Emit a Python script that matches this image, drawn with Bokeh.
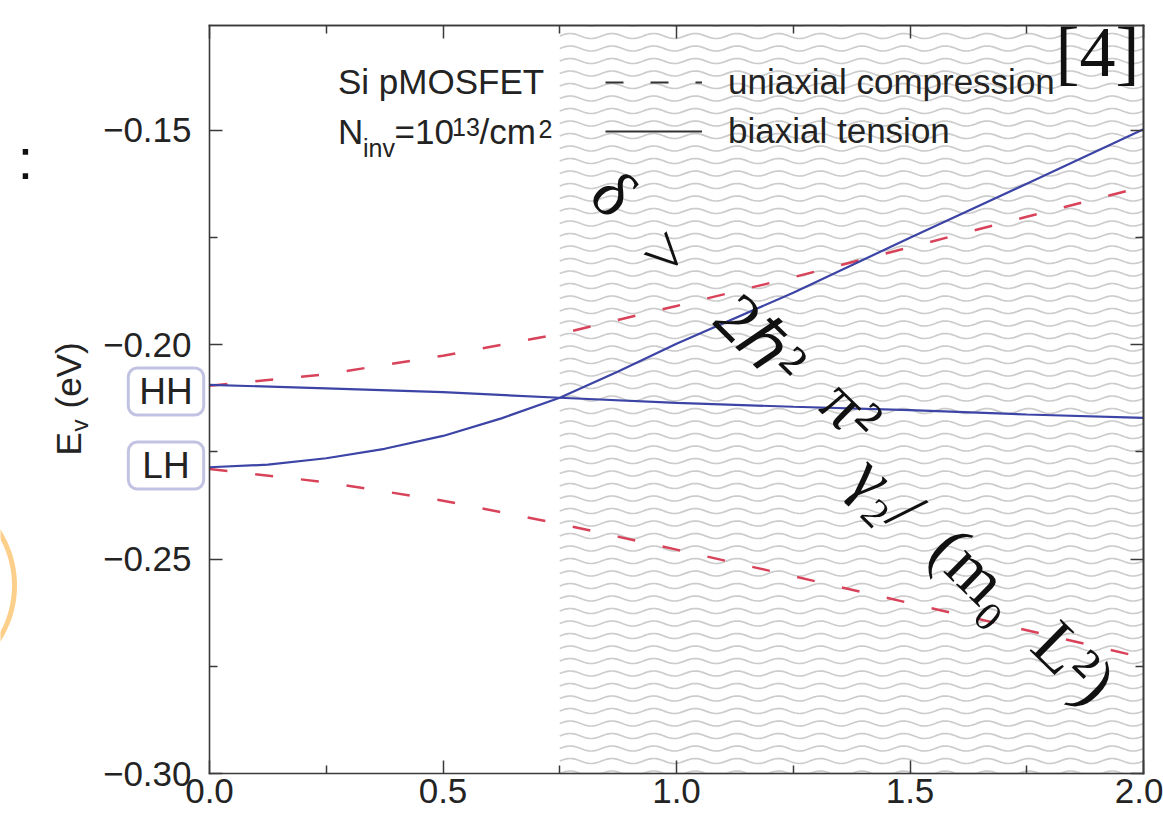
import numpy as np
from bokeh.plotting import figure
from bokeh.models import (Range1d, LinearAxis, FixedTicker, Label, Legend,
                          LegendItem, PolyAnnotation)
from bokeh.embed import file_html
from bokeh.resources import INLINE

# ---------------- data ----------------
x_main = [0.0, 0.25, 0.5, 0.75, 1.0, 1.25, 1.5, 1.75, 2.0]
uniaxial_upper = [-0.2096, -0.2069, -0.2026, -0.1975, -0.1910, -0.1843, -0.1773, -0.1702, -0.1632]
uniaxial_lower = [-0.2290, -0.2321, -0.2364, -0.2418, -0.2478, -0.2540, -0.2603, -0.2666, -0.2730]
biaxial_hh = [-0.2094, -0.2102, -0.2111, -0.2124, -0.2136, -0.2145, -0.2153, -0.2163, -0.2171]
x_lh = [0.0, 0.125, 0.25, 0.375, 0.5, 0.625, 0.75, 0.875, 1.0, 1.25, 1.5, 1.75, 2.0]
biaxial_lh = [-0.2286, -0.2280, -0.2265, -0.2243, -0.2213, -0.2172, -0.2124, -0.2063,
              -0.1998, -0.1879, -0.1751, -0.1625, -0.1498]

x_ticks = [0.0, 0.5, 1.0, 1.5, 2.0]
x_minor = [0.25, 0.75, 1.25, 1.75]
x_tick_labels = ["0.0", "0.5", "1.0", "1.5", "2.0"]
y_ticks = [-0.30, -0.25, -0.20, -0.15]
y_minor = [-0.275, -0.225, -0.175]
y_tick_labels = ["\u22120.30", "\u22120.25", "\u22120.20", "\u22120.15"]
hatch_start = 0.75
legend_labels = ["uniaxial compression", "biaxial tension"]
band_labels = ["HH", "LH"]

# ---------------- layout (page pixels) ----------------
W, H = 1163, 817
FL, FR, FT, FB = 209, 1143, 25, 773       # plot box edges on the page
X0, X1 = 0.0, 2.0
PXY = 4289.3                               # px per eV
Y0 = -0.30
Y1 = Y0 + (FB - FT) / PXY
PXX = (FR - FL) / (X1 - X0)

def dx(px):
    return X0 + (px - FL) / PXX

def dy(py):
    return Y0 + (FB - py) / PXY

SANS = "Liberation Sans"
SERIF = "Liberation Serif"
TXT = "#232323"
AX = "#3a3a3a"
BLUE = "#3c44a6"
RED = "#d8435a"

# the frame spans the whole canvas; the plot box is drawn by fixed-location axes
p = figure(width=W, height=H, x_range=Range1d(dx(0), dx(W)), y_range=Range1d(dy(H), dy(0)),
           output_backend="svg", toolbar_location=None,
           x_axis_type=None, y_axis_type=None,
           min_border_left=0, min_border_right=0, min_border_top=0, min_border_bottom=0)
p.background_fill_color = "white"
p.border_fill_color = "white"
p.outline_line_color = None


def base_axis(ticker, loc, bounds):
    ax = LinearAxis(ticker=ticker, fixed_location=loc, bounds=bounds)
    ax.axis_line_color = AX
    ax.axis_line_width = 1.6
    ax.axis_line_cap = "square"
    ax.major_tick_line_color = AX
    ax.major_tick_line_width = 1.5
    ax.minor_tick_line_color = AX
    ax.minor_tick_line_width = 1.5
    ax.major_tick_in = 13
    ax.major_tick_out = 0
    ax.minor_tick_in = 8
    ax.minor_tick_out = 0
    ax.major_label_text_font = SANS
    ax.major_label_text_font_size = "35px"
    ax.major_label_text_color = TXT
    return ax

# left axis with labels
yl = base_axis(FixedTicker(ticks=y_ticks, minor_ticks=y_minor), X0, (Y0, Y1))
yl.major_label_overrides = dict(zip(y_ticks, y_tick_labels))
yl.major_label_standoff = 18
p.add_layout(yl, "left")
# bottom axis with labels
xb = base_axis(FixedTicker(ticks=x_ticks, minor_ticks=x_minor), Y0, (X0, X1))
xb.major_label_overrides = dict(zip(x_ticks, x_tick_labels))
xb.major_label_standoff = 5
p.add_layout(xb, "below")
# right and top: ticks only (long ones for major positions, short for minor)
for side, ticks, minor, loc, bnds in [("right", y_ticks, y_minor, X1, (Y0, Y1)),
                                      ("above", x_ticks, x_minor, Y1, (X0, X1))]:
    a1 = base_axis(FixedTicker(ticks=[], minor_ticks=ticks), loc, bnds)
    a1.minor_tick_in = 13
    p.add_layout(a1, side)
    a2 = base_axis(FixedTicker(ticks=[], minor_ticks=minor), loc, bnds)
    p.add_layout(a2, side)

# ---------------- wavy hatch on x >= 0.75 ----------------
P = 41.7 / PXX
A = 2.5 / PXY
DY = 12.5 / PXY
hx = np.linspace(hatch_start, X1, 420)
hxs, hys = [], []
yb = Y0 - DY
while yb < Y1 + DY:
    hxs.append(list(hx))
    hys.append(list(np.clip(yb + A * np.sin(2 * np.pi * (hx - hatch_start) / P), Y0, Y1)))
    yb += DY
p.multi_line(xs=hxs, ys=hys, line_color="#cccccc", line_width=1.7)

# ---------------- curves ----------------
p.line(x_main, uniaxial_upper, line_color=RED, line_width=2.5, line_dash="18 28")
p.line(x_main, uniaxial_lower, line_color=RED, line_width=2.5, line_dash="18 28")
p.line(x_main, biaxial_hh, line_color=BLUE, line_width=2.2)
p.line(x_lh, biaxial_lh, line_color=BLUE, line_width=2.2)

# ---------------- legend (sample renderers hold off-view points only) ----------------
r1 = p.line(x=[-9, -8], y=[-9, -9], line_color="#333333", line_width=2, line_dash="18 27")
r2 = p.line(x=[-9, -8], y=[-9, -9], line_color="#333333", line_width=2)
leg = Legend(items=[LegendItem(label=legend_labels[0], renderers=[r1]),
                    LegendItem(label=legend_labels[1], renderers=[r2])],
             location=(605, H - 151),
             glyph_width=97, glyph_height=40, label_height=40, label_standoff=26,
             spacing=9, padding=0, margin=0,
             border_line_alpha=0, background_fill_alpha=0,
             label_text_font=SANS, label_text_font_size="35px", label_text_color=TXT)
p.add_layout(leg)

# ---------------- text annotations ----------------
def lab(px, py, text, size=35, font=SANS, align="left", angle=0.0, color=TXT, k=0.3465, **kw):
    # (px, py) is the text's baseline point on the page; shift to the em-box middle
    m = k * size
    cx = px - m * np.sin(angle)
    cy = py - m * np.cos(angle)
    p.add_layout(Label(x=dx(cx), y=dy(cy), text=text, text_font=font,
                       text_font_size=f"{size}px", text_align=align, text_baseline="middle",
                       angle=angle, text_color=color, **kw))

lab(337.5, 93, "Si pMOSFET")
lab(337.5, 143, "N")
lab(362.5, 156, "inv", size=25)
lab(394, 143, "=10")
lab(451.5, 135, "13", size=25)
lab(479, 143, "/cm")
lab(538, 137, "2", size=25)

# reference tag
lab(1097, 76, "[4]", size=72, font=SERIF, align="center", color="#111111", k=0.3375)

# y-axis title E_v (eV)
lab(80, 455, "E", angle=np.pi / 2)
lab(87, 431, "v", size=24, angle=np.pi / 2)
lab(80, 408, "(eV)", angle=np.pi / 2)

# band labels in rounded boxes
for txt, cy, padx in zip(band_labels, [391, 465], [11, 14]):
    p.add_layout(Label(x=dx(165.5), y=dy(cy), text=txt, text_align="center",
                       text_baseline="middle", text_font=SANS, text_font_size="37px",
                       text_color=TXT, border_line_color="#c2c2e2", border_line_width=3,
                       background_fill_color="white", border_radius=9, padding=(padx, 3)))

# condition formula along the diagonal (positions are glyph-group centres)
ang = -0.777
for txt, cx, cy in [("\u03b4", 614, 193), (">", 666, 253), ("2\u210f\u00b2", 760, 339),
                    ("\u03c0\u00b2", 851, 410), ("\u03b3\u2082/", 887, 492),
                    ("(m\u2080", 977, 573), ("L\u00b2)", 1074, 662)]:
    p.add_layout(Label(x=dx(cx), y=dy(cy), text=txt, text_font=SERIF, text_font_size="68px",
                       text_align="center", text_baseline="middle", angle=ang,
                       text_color="#111111"))

# slide remnants at the left edge
lab(25, 178, ":", size=57, align="center", color="#111111")
phi = np.linspace(-0.62, 0.62, 40)
ox = -86.5 + 103.0 * np.cos(phi)
oy = 585 + 103.0 * np.sin(phi)
ix = -86.5 + 98.0 * np.cos(phi[::-1])
iy = 585 + 98.0 * np.sin(phi[::-1])
p.add_layout(PolyAnnotation(xs=[dx(v) for v in np.concatenate([ox, ix])],
                            ys=[dy(v) for v in np.concatenate([oy, iy])],
                            xs_units="data", ys_units="data",
                            fill_color="#fccf8a", fill_alpha=1.0, line_alpha=0))

open("out.html", "w").write(file_html(p, INLINE))
